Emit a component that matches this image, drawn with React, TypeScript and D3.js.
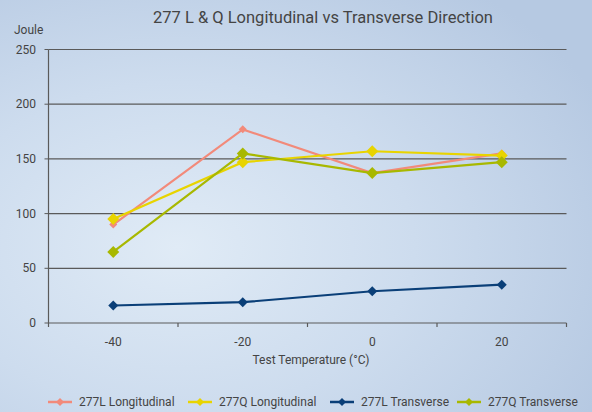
import React from "react";
import * as d3 from "d3";

const categories = ["-40", "-20", "0", "20"];
const l_long = [90, 177, 137, 155];
const q_long = [95, 147, 157, 153];
const l_trans = [16, 19, 29, 35];
const q_trans = [65, 155, 137, 147];
const yTicks = [0, 50, 100, 150, 200, 250];

const series = [
  { name: "277L Longitudinal", values: l_long, color: "#f28a7a", size: 8 },
  { name: "277Q Longitudinal", values: q_long, color: "#e8d400", size: 12 },
  { name: "277L Transverse", values: l_trans, color: "#0a3f78", size: 10 },
  { name: "277Q Transverse", values: q_trans, color: "#a8b800", size: 12 },
];

const W = 592, H = 412;
const left = 48.5, right = 566.5, top = 49.5, bottom = 323;

export default function App() {
  const x = d3.scaleBand().domain(categories).range([left, right]);
  const y = d3.scaleLinear().domain([0, 250]).range([bottom, top]);
  const line = d3.line<number>().x((_, i) => x(categories[i])! + x.bandwidth() / 2).y((d) => y(d));
  const font = "Roboto, sans-serif";
  const diamond = (cx: number, cy: number, s: number) => {
    const r = s / 2;
    return `M${cx},${cy - r}L${cx + r},${cy}L${cx},${cy + r}L${cx - r},${cy}Z`;
  };
  const legendX = [48, 188, 330, 457];
  return (
    <svg width={W} height={H} style={{ position: "absolute", left: 0, top: 0 }}>
      <defs>
        <radialGradient id="bg" cx="0.3" cy="0.6" r="0.8">
          <stop offset="0" stopColor="#e0ebf6" />
          <stop offset="0.5" stopColor="#cddcee" />
          <stop offset="1" stopColor="#b6c9e2" />
        </radialGradient>
      </defs>
      <rect width={W} height={H} fill="url(#bg)" />
      <text x={323} y={23} textAnchor="middle" fontFamily={font} fontSize={16.5} fill="#444">
        277 L &amp; Q Longitudinal vs Transverse Direction
      </text>
      <text x={14} y={34} fontFamily={font} fontSize={12} fill="#444">Joule</text>
      {yTicks.map((t) => (
        <g key={t}>
          <line x1={left} x2={right} y1={y(t)} y2={y(t)} stroke="#5a5a5a" strokeWidth={1.2} />
          <line x1={left - 4} x2={left} y1={y(t)} y2={y(t)} stroke="#5a5a5a" />
          <text x={36} y={y(t) + 4} textAnchor="end" fontFamily={font} fontSize={12} fill="#444">{t}</text>
        </g>
      ))}
      <line x1={left} x2={left} y1={top} y2={bottom} stroke="#5a5a5a" strokeWidth={1.2} />
      {[...categories.map((c) => x(c)!), right].map((v, i) => (
        <line key={i} x1={v} x2={v} y1={bottom} y2={bottom + 4} stroke="#5a5a5a" strokeWidth={1.2} />
      ))}
      {categories.map((c) => (
        <text key={c} x={x(c)! + x.bandwidth() / 2} y={346} textAnchor="middle" fontFamily={font} fontSize={12} fill="#444">{c}</text>
      ))}
      <text x={311} y={364} textAnchor="middle" fontFamily={font} fontSize={12} fill="#444">Test Temperature (°C)</text>
      {series.map((s) => (
        <g key={s.name}>
          <path d={line(s.values)!} fill="none" stroke={s.color} strokeWidth={2.2} />
          {s.values.map((v, i) => (
            <path key={i} d={diamond(x(categories[i])! + x.bandwidth() / 2, y(v), s.size)} fill={s.color} />
          ))}
        </g>
      ))}
      {series.map((s, i) => (
        <g key={s.name}>
          <line x1={legendX[i]} x2={legendX[i] + 24} y1={402} y2={402} stroke={s.color} strokeWidth={2.5} />
          <path d={diamond(legendX[i] + 12, 402, 8)} fill={s.color} />
          <text x={legendX[i] + 31} y={406} fontFamily={font} fontSize={12} fill="#444">{s.name}</text>
        </g>
      ))}
    </svg>
  );
}
